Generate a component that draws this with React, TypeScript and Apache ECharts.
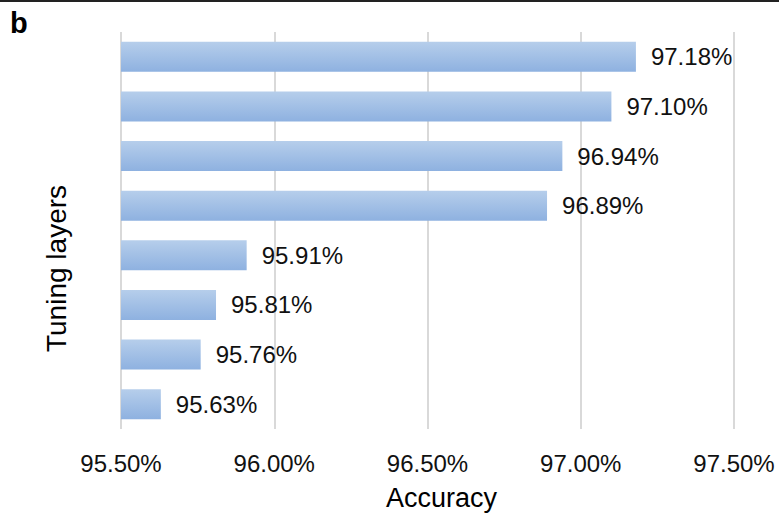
import React, { useEffect, useRef } from "react";
import * as echarts from "echarts";

const categories = ["L1", "L2", "L3", "L4", "L5", "L6", "L7", "L8"];
const accuracy = [95.63, 95.76, 95.81, 95.91, 96.89, 96.94, 97.1, 97.18];
const xMin = 95.5;
const xMax = 97.5;
const xInterval = 0.5;

export default function App() {
  const ref = useRef<HTMLDivElement>(null);
  useEffect(() => {
    const chart = echarts.init(ref.current!, null, { renderer: "svg" });
    const font = "Liberation Sans, Arial, sans-serif";
    chart.setOption({
      animation: false,
      grid: { left: 121, width: 613, top: 32, height: 400, containLabel: false },
      graphic: [
        { type: "line", shape: { x1: 0, y1: 1, x2: 779, y2: 1 }, style: { stroke: "#222", lineWidth: 2 } },
        { type: "text", left: 10, top: 8, style: { text: "b", font: "bold 29px " + font, fill: "#000" } },
      ],
      xAxis: {
        type: "value",
        min: xMin,
        max: xMax,
        interval: xInterval,
        name: "Accuracy",
        nameLocation: "middle",
        nameGap: 55,
        nameTextStyle: { fontSize: 27, color: "#000", fontFamily: font, padding: [0, 0, 0, 28] },
        axisLine: { show: false },
        axisTick: { show: false },
        axisLabel: {
          fontSize: 24,
          color: "#111",
          fontFamily: font,
          margin: 22,
          formatter: (v: number) => v.toFixed(2) + "%",
        },
        splitLine: { show: true, lineStyle: { color: "#d9d9d9", width: 2 } },
      },
      yAxis: {
        type: "category",
        data: categories,
        name: "Tuning layers",
        nameLocation: "middle",
        nameGap: 51,
        nameRotate: 90,
        nameTextStyle: { fontSize: 28, color: "#000", fontFamily: font, padding: [0, 76, 0, 0] },
        axisLine: { show: false },
        axisTick: { show: false },
        axisLabel: { show: false },
        splitLine: { show: false },
      },
      series: [
        {
          type: "bar",
          data: accuracy,
          barWidth: 30,
          itemStyle: {
            color: new echarts.graphic.LinearGradient(0, 0, 0, 1, [
              { offset: 0, color: "#b6ceeb" },
              { offset: 1, color: "#8eb1e0" },
            ]),
          },
          label: {
            show: true,
            position: "right",
            distance: 15,
            fontSize: 24,
            color: "#111",
            fontFamily: font,
            formatter: (p: any) => p.value.toFixed(2) + "%",
          },
        },
      ],
    });
    return () => chart.dispose();
  }, []);
  return (
    <div
      ref={ref}
      style={{ position: "fixed", left: 0, top: 0, width: 779, height: 516, background: "#fff" }}
    />
  );
}
